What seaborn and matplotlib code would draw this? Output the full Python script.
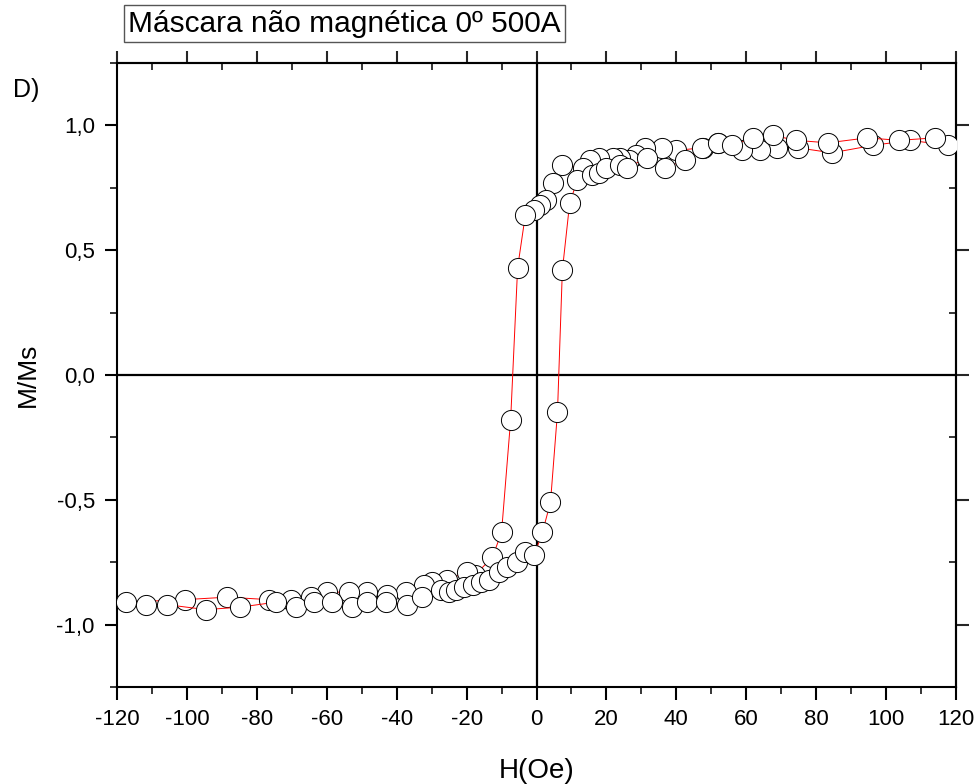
import matplotlib
matplotlib.use("Agg")
import matplotlib.pyplot as plt
import seaborn as sns
import pandas as pd
from matplotlib.ticker import MultipleLocator, FuncFormatter

# ----------------------------------------------------
# Data (H in Oe, M/Ms)
# ----------------------------------------------------
# branch with decreasing field
h_down = [117.8, 106.9, 96.3, 84.5, 74.8, 68.8, 64.0, 58.7, 51.9, 47.6,
          40.0, 35.8, 31.0, 28.6, 26.6, 23.8, 21.8, 18.0, 15.2, 13.2,
          7.4, 4.6, 2.6, 0.9, -0.6, -3.2, -5.4, -7.4, -10.0, -12.6,
          -17.5, -20.0, -25.5, -29.8, -32.1, -37.2, -42.7, -48.4, -53.6, -59.9,
          -64.5, -70.2, -76.5, -88.5, -100.6, -117.5]
m_down = [0.92, 0.94, 0.92, 0.89, 0.91, 0.91, 0.90, 0.90, 0.93, 0.91,
          0.90, 0.91, 0.91, 0.88, 0.86, 0.87, 0.87, 0.87, 0.86, 0.83,
          0.84, 0.77, 0.70, 0.68, 0.66, 0.64, 0.43, -0.18, -0.63, -0.73,
          -0.80, -0.79, -0.82, -0.83, -0.84, -0.87, -0.88, -0.87, -0.87, -0.87,
          -0.89, -0.90, -0.90, -0.89, -0.90, -0.91]

# branch with increasing field
h_up = [-111.7, -105.7, -94.6, -84.8, -74.5, -68.8, -63.6, -58.5, -52.7, -48.4,
        -43.0, -37.0, -32.7, -27.2, -24.9, -22.9, -20.6, -18.3, -15.8, -13.5,
        -10.6, -8.3, -5.7, -3.2, -0.6, 1.7, 4.0, 6.0, 7.4, 9.5,
        11.7, 15.8, 18.0, 20.0, 23.8, 26.0, 31.5, 36.7, 42.4, 47.3,
        51.9, 56.0, 62.0, 67.6, 74.2, 83.4, 94.6, 103.7, 114.0]
m_up = [-0.92, -0.92, -0.94, -0.93, -0.91, -0.93, -0.91, -0.91, -0.93, -0.91,
        -0.91, -0.92, -0.89, -0.86, -0.87, -0.86, -0.85, -0.84, -0.83, -0.82,
        -0.79, -0.77, -0.75, -0.71, -0.72, -0.63, -0.51, -0.15, 0.42, 0.69,
        0.78, 0.80, 0.81, 0.83, 0.84, 0.83, 0.87, 0.83, 0.86, 0.91,
        0.93, 0.92, 0.95, 0.96, 0.94, 0.93, 0.95, 0.94, 0.95]

title = "Máscara não magnética 0º 500A"
x_ticks = list(range(-120, 121, 20))
y_ticks = [-1.0, -0.5, 0.0, 0.5, 1.0]

df_down = pd.DataFrame({"H": h_down, "M": m_down})
df_up = pd.DataFrame({"H": h_up, "M": m_up})

# ----------------------------------------------------
# Style
# ----------------------------------------------------
sns.set_style("white")
plt.rcParams['font.family'] = ['Liberation Sans', 'DejaVu Sans']
plt.rcParams['axes.unicode_minus'] = False
plt.rcParams['text.color'] = 'black'
plt.rcParams['axes.labelcolor'] = 'black'

fig = plt.figure(figsize=(9.8, 7.84), dpi=100)
ax = fig.add_axes([0.1194, 0.1237, 0.8561, 0.7960])

for d in [df_down, df_up]:
    sns.lineplot(data=d, x="H", y="M", sort=False, estimator=None, ax=ax,
                 color="red", linewidth=0.7, marker="o", markersize=14.5,
                 markerfacecolor="white", markeredgecolor="black",
                 markeredgewidth=0.7, zorder=3)

# zero lines
ax.axvline(0, color="black", linewidth=1.6, zorder=2)
ax.axhline(0, color="black", linewidth=1.6, zorder=2)

ax.set_xlim(-120, 120)
ax.set_ylim(-1.25, 1.25)
ax.set_xticks(x_ticks)
ax.set_yticks(y_ticks)
ax.xaxis.set_minor_locator(MultipleLocator(10))
ax.yaxis.set_minor_locator(MultipleLocator(0.25))
ax.xaxis.set_major_formatter(FuncFormatter(lambda v, p: "%d" % round(v)))
ax.yaxis.set_major_formatter(FuncFormatter(lambda v, p: ("%.1f" % v).replace(".", ",")))

for s in ax.spines.values():
    s.set_color("black")
    s.set_linewidth(1.5)

ax.tick_params(which="major", direction="out", length=9, width=1.5, pad=7,
               labelsize=16, colors="black", bottom=True, left=True,
               top=False, right=False)
ax.tick_params(which="minor", direction="out", length=5, width=1.3,
               bottom=True, left=True, top=False, right=False)

# top / right axes: major ticks out, minor ticks in
top = ax.secondary_xaxis("top")
top.set_xticks(x_ticks)
top.xaxis.set_minor_locator(MultipleLocator(10))
top.tick_params(which="major", direction="out", length=9, width=1.5, labeltop=False)
top.tick_params(which="minor", direction="in", length=5, width=1.3)
top.spines["top"].set_linewidth(1.5)

right = ax.secondary_yaxis("right")
right.set_yticks(y_ticks)
right.yaxis.set_minor_locator(MultipleLocator(0.25))
right.tick_params(which="major", direction="out", length=9, width=1.5, labelright=False)
right.tick_params(which="minor", direction="in", length=5, width=1.3)
right.spines["right"].set_linewidth(1.5)

ax.set_xlabel("H(Oe)", fontsize=20, labelpad=20)
ax.set_ylabel("M/Ms", fontsize=19, labelpad=12)

fig.text(0.3515, 0.970, title, fontsize=21.5, ha="center", va="center",
         bbox=dict(boxstyle="square,pad=0.15", facecolor="white",
                   edgecolor="#555555", linewidth=1.0))
fig.text(0.013, 0.876, "D)", fontsize=18, ha="left", va="baseline")

fig.savefig("out.png", dpi=100)
